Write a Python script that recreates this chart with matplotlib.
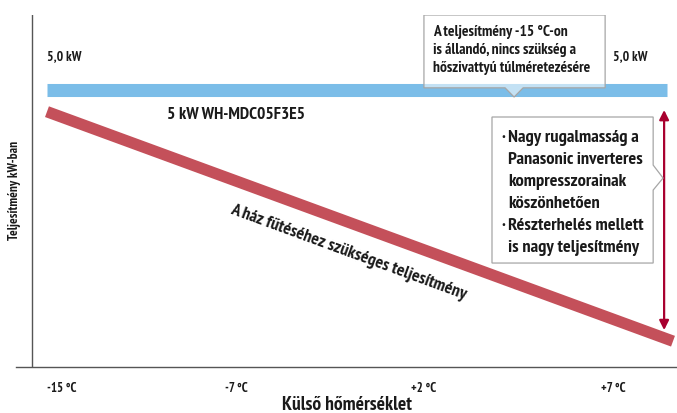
import numpy as np
import matplotlib
matplotlib.use("Agg")
import matplotlib.pyplot as plt
from matplotlib.patches import Polygon

### --- Data ---
tick_labels = ['-15 °C', '-7 °C', '+2 °C', '+7 °C']
tick_pos = [0.0, 1.0, 2.08, 3.17]

# heat pump capacity (flat) and house heating demand (falling line)
capacity_x = [-0.086, 3.477]
capacity_kw = [5.0, 5.0]
demand_x = [-0.086, 3.511]
demand_kw = [4.60, 0.46]

# double arrow: spare capacity range
arrow_x = 3.46
arrow_kw = [4.63, 0.66]

box1_lines = ['A teljesítmény -15 °C-on', 'is állandó, nincs szükség a', 'hőszivattyú túlméretezésére']
box2_lines = ['Nagy rugalmasság a', 'Panasonic inverteres', 'kompresszorainak', 'köszönhetően',
              'Részterhelés mellett', 'is nagy teljesítmény']
box2_bullets = [True, False, False, False, True, False]

### --- Fonts ---
plt.rcParams['font.family'] = ['PT Sans Narrow', 'Fira Sans Condensed', 'Asap Condensed', 'DejaVu Sans']
plt.rcParams['font.weight'] = 'bold'
txt_col = '#1a1a1a'

### --- Figure ---
fig = plt.figure(figsize=(6.77, 4.13), dpi=100)
ax = fig.add_axes([0.02363, 0.1121, 0.97637, 0.8516])
ax.set_xlim(-0.264, 3.534)
ax.set_ylim(0, 6.344)

for s in ['top', 'right', 'left']:
    ax.spines[s].set_visible(False)
ax.spines['bottom'].set_color('#555555')
ax.spines['bottom'].set_linewidth(1.0)
ax.axvline(-0.174, color='#555555', lw=1.0)

ax.set_yticks([])
ax.set_xticks(tick_pos)
ax.set_xticklabels(tick_labels, fontsize=9.3, fontweight='bold', color=txt_col)
ax.tick_params(axis='x', length=0, pad=11)

ax.set_xlabel('Külső hőmérséklet', fontsize=14, fontweight='bold', color=txt_col, labelpad=1)
fig.text(0.022, 0.54, 'Teljesítmény kW-ban', rotation=90, ha='center', va='center',
         fontsize=9.5, fontweight='bold', color=txt_col)

# lines
ax.plot(capacity_x, capacity_kw, color='#7bbde8', lw=9.4, solid_capstyle='butt', zorder=2)
ax.plot(demand_x, demand_kw, color='#c4505a', lw=8.2, solid_capstyle='butt', zorder=2)

ax.annotate('', xy=(arrow_x, arrow_kw[0]), xytext=(arrow_x, arrow_kw[1]),
            arrowprops=dict(arrowstyle='<|-|>', color='#a8002f', lw=1.6,
                            mutation_scale=14, shrinkA=0, shrinkB=0), zorder=3)

# labels
ax.text(capacity_x[0], 5.586, '5,0 kW', fontsize=9.8, fontweight='bold', color=txt_col, va='center')
ax.text(3.167, 5.586, '5,0 kW', fontsize=9.8, fontweight='bold', color=txt_col, va='center')
ax.text(0.603, 4.54, '5 kW WH-MDC05F3E5', fontsize=12.5, fontweight='bold', color=txt_col, va='center')

p1 = ax.transData.transform((demand_x[0], demand_kw[0]))
p2 = ax.transData.transform((demand_x[1], demand_kw[1]))
ang = np.degrees(np.arctan2(p2[1] - p1[1], p2[0] - p1[0]))
ax.text(1.644, 2.05, 'A ház fűtéséhez szükséges teljesítmény', fontsize=12.8, fontweight='bold',
        color=txt_col, rotation=ang, rotation_mode='anchor', ha='center', va='center')

# callout box 1 (pointer down to capacity bar)
b1 = [(2.080, 6.344), (3.121, 6.344), (3.121, 5.03), (2.650, 5.03), (2.598, 4.864),
      (2.546, 5.03), (2.080, 5.03)]
ax.add_patch(Polygon(b1, closed=True, facecolor=(1, 1, 1, 0.55), edgecolor='#a6a6a6', lw=0.9, zorder=4))
for i, line in enumerate(box1_lines):
    ax.text(2.132, 6.037 - i * 0.325, line, fontsize=11.2, fontweight='bold', color=txt_col,
            va='center', zorder=5)

# callout box 2 (pointer right to arrow)
b2 = [(2.471, 4.504), (3.397, 4.504), (3.397, 3.637), (3.454, 3.403), (3.397, 3.186),
      (3.397, 1.870), (2.471, 1.870)]
ax.add_patch(Polygon(b2, closed=True, facecolor='white', edgecolor='#a6a6a6', lw=0.9, zorder=4))
for i, line in enumerate(box2_lines):
    y = 4.125 - i * 0.397
    if box2_bullets[i]:
        ax.text(2.524, y, '·', fontsize=13, fontweight='bold', color=txt_col, va='center', zorder=5)
    ax.text(2.563, y, line, fontsize=13.2, fontweight='bold', color=txt_col, va='center', zorder=5)

fig.savefig('out.png', dpi=100)
